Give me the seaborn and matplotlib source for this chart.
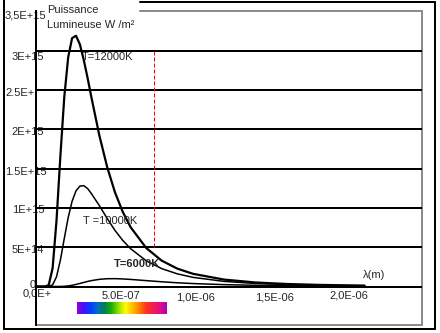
import numpy as np
import pandas as pd
import matplotlib
matplotlib.use("Agg")
import matplotlib.pyplot as plt
import seaborn as sns
from matplotlib.lines import Line2D
from matplotlib.colors import LinearSegmentedColormap
from matplotlib.transforms import offset_copy

# ---- data ----
wavelength_m = [0.0, 0.5e-7, 0.75e-7, 1.0e-7, 1.25e-7, 1.5e-7, 1.75e-7, 2.0e-7,
                2.25e-7, 2.5e-7, 2.75e-7, 3.0e-7, 3.25e-7, 3.5e-7, 4.0e-7, 4.5e-7,
                5.0e-7, 5.5e-7, 6.0e-7, 7.0e-7, 8.0e-7, 9.0e-7, 1.0e-6, 1.2e-6,
                1.4e-6, 1.6e-6, 1.8e-6, 2.0e-6, 2.1e-6]
power_12000K = [0.0, 0.0, 0.018e15, 0.232e15, 0.837e15, 1.663e15, 2.414e15, 2.918e15,
                3.16e15, 3.19e15, 3.08e15, 2.88e15, 2.646e15, 2.395e15, 1.919e15, 1.518e15,
                1.197e15, 0.948e15, 0.755e15, 0.49e15, 0.328e15, 0.227e15, 0.1615e15, 0.0877e15,
                0.0514e15, 0.032e15, 0.0209e15, 0.0142e15, 0.0119e15]
power_10000K = [0.0, 0.0, 0.0007e15, 0.0211e15, 0.123e15, 0.337e15, 0.612e15, 0.878e15,
                1.085e15, 1.217e15, 1.277e15, 1.283e15, 1.245e15, 1.178e15, 1.028e15, 0.865e15,
                0.713e15, 0.586e15, 0.481e15, 0.327e15, 0.227e15, 0.1605e15, 0.1163e15, 0.0649e15,
                0.0388e15, 0.0245e15, 0.0162e15, 0.0111e15, 0.0093e15]
power_6000K = [0.0, 0.0, 0.0, 0.0, 0.00002e15, 0.00056e15, 0.0026e15, 0.0073e15,
               0.0152e15, 0.0262e15, 0.0388e15, 0.052e15, 0.0645e15, 0.0755e15, 0.0912e15, 0.0988e15,
               0.0997e15, 0.0961e15, 0.0901e15, 0.0748e15, 0.060e15, 0.0474e15, 0.0374e15, 0.0236e15,
               0.0153e15, 0.0103e15, 0.0071e15, 0.00505e15, 0.0043e15]

curve_labels = ["T=12000K", "T =10000K", "T=6000K"]
visible_limit_m = 7.5e-7
visible_band_m = [2.56e-7, 8.27e-7]

x_tick_values = [0.0, 5e-7, 1e-6, 1.5e-6, 2e-6]
x_tick_labels = ["0,0E+", "5.0E-07", "1,0E-06", "1,5E-06", "2,0E-06"]
y_tick_values = [0.0, 5e14, 1e15, 1.5e15, 2e15, 2.5e15, 3e15, 3.5e15]
y_tick_labels = ["0", "5E+14", "1E+15", "1.5E+15", "2E+15", "2.5E+", "3E+15", "3,5E+15"]
grid_values = [0.0, 5e14, 1e15, 1.5e15, 2e15, 2.5e15, 3e15]

# ---- style ----
sns.set_style("white")
plt.rcParams["font.family"] = ["Liberation Sans", "DejaVu Sans"]
plt.rcParams["font.size"] = 8

W, H = 440, 333
fig = plt.figure(figsize=(W / 100, H / 100), dpi=100)
fig.patch.set_facecolor("white")
ax = fig.add_axes([35.5 / W, 1 - 325 / H, (422 - 35.5) / W, (325 - 10.5) / H])

df = pd.DataFrame({
    "lam": wavelength_m * 3,
    "P": power_12000K + power_10000K + power_6000K,
    "T": ["12000"] * len(wavelength_m) + ["10000"] * len(wavelength_m) + ["6000"] * len(wavelength_m),
})
widths = {"12000": 1.6, "10000": 1.1, "6000": 1.1}
for t, lw in widths.items():
    sns.lineplot(data=df[df["T"] == t], x="lam", y="P", color="black", lw=lw,
                 sort=False, ax=ax, legend=False, zorder=4)

x_per_px = 1e-6 / 156.0
y_per_px = 5e14 / 39.3
ax.set_xlim(-1.5 * x_per_px, (422 - 37) * x_per_px)
ax.set_ylim(-38.5 * y_per_px, (286.5 - 10.5) * y_per_px)
ax.set_xticks([])
ax.set_yticks([])
ax.set_xlabel("")
ax.set_ylabel("")

for v in grid_values:
    ax.axhline(v, color="black", lw=1.44, zorder=3)

ax.plot([visible_limit_m, visible_limit_m], [5e14, 3e15], color="red",
        lw=0.72, ls=(0, (4, 2)), zorder=3)

# spines
ax.spines["left"].set_color("black")
ax.spines["left"].set_linewidth(1.44)
ax.spines["left"].set_zorder(6)
for s in ["bottom", "right"]:
    ax.spines[s].set_color("#8c8c8c")
    ax.spines[s].set_linewidth(1.44)
ax.spines["top"].set_visible(False)
ax.add_line(Line2D([(140 - 35.5) / 386.5, 1.0], [1.0, 1.0], transform=ax.transAxes,
                   color="#8c8c8c", lw=1.44, clip_on=False))

# spectrum bar
spec_cmap = LinearSegmentedColormap.from_list("spec", [
    "#9400d0", "#4010ff", "#0040ff", "#0070c0", "#008050", "#20b000", "#90e000",
    "#ffff00", "#ffc000", "#ff8000", "#ff3020", "#f02050", "#e01080", "#b000c0"])
grad = np.linspace(0, 1, 256).reshape(1, -1)
ax.imshow(grad, cmap=spec_cmap, aspect="auto",
          extent=[visible_band_m[0], visible_band_m[1], -28 * y_per_px, -17 * y_per_px],
          zorder=2)

# tick labels
x_dx = [0, 6, 3, 4, 0]
x_dy = [-7, -9.5, -11.5, -11.5, -8.5]
for v, lab, dx, dy in zip(x_tick_values, x_tick_labels, x_dx, x_dy):
    tr = offset_copy(ax.transData, fig=fig, x=dx, y=dy, units="dots")
    ax.text(v, 0, lab, transform=tr, ha="center", va="center", fontsize=8,
            clip_on=False, zorder=1)

y_dx = [-4.5, -9.5, -9, -11, -9, -17, -9, -12]
y_dy = [1.5, -3, -2, -3, -3, -3, -6, -4.5]
for v, lab, dx, dy in zip(y_tick_values, y_tick_labels, y_dx, y_dy):
    tr = offset_copy(ax.transData, fig=fig, x=dx, y=dy, units="dots")
    ax.text(0, v, lab, transform=tr, ha="center", va="center", fontsize=8,
            clip_on=False, zorder=1)

# curve annotations
ax.text(4.49e-7, 2.92e15, curve_labels[0], ha="center", va="center", fontsize=8, zorder=5)
ax.text(4.68e-7, 8.33e14, curve_labels[1], ha="center", va="center", fontsize=8, zorder=5)
ax.text(6.41e-7, 2.86e14, curve_labels[2], ha="center", va="center", fontsize=8,
        fontweight="bold", zorder=5)
ax.text(2.16e-6, 1.46e14, "λ(m)", ha="center", va="center", fontsize=8, zorder=5)

# axis title (top-left)
fig.text(47 / W, 1 - 13 / H, "Puissance", ha="left", va="baseline", fontsize=8)
fig.text(47 / W, 1 - 27.5 / H, "Lumineuse W /m²", ha="left", va="baseline", fontsize=8)

# outer frame
def fline(xs, ys):
    fig.add_artist(Line2D([x / W for x in xs], [1 - y / H for y in ys],
                          transform=fig.transFigure, color="black", lw=1.44))

fline([4, 4], [0, 329])
fline([140, 435], [1.5, 1.5])
fline([435, 435], [1.5, 329])
fline([4, 435], [329, 329])

fig.savefig("out.png", dpi=100, facecolor="white")
